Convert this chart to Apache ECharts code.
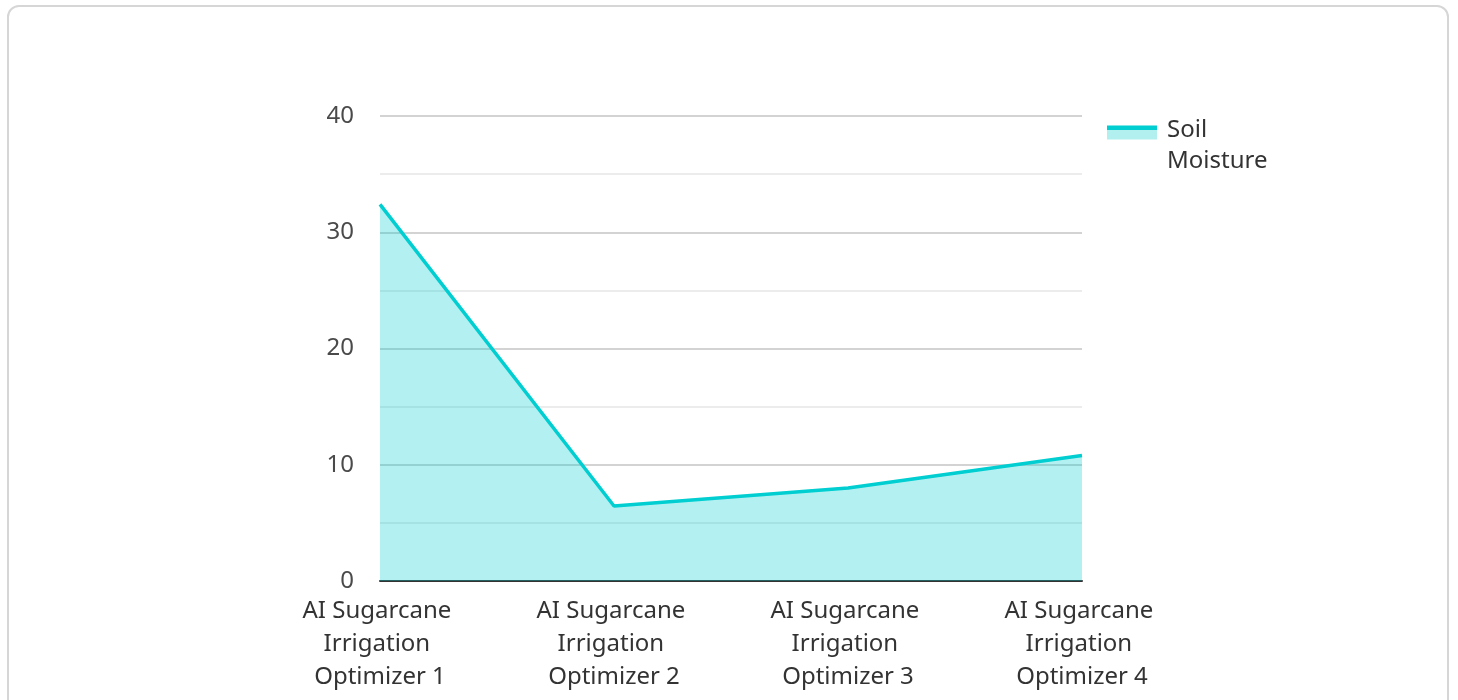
<!DOCTYPE html>
<html>
<head>
<meta charset="utf-8">
<script src="https://cdn.jsdelivr.net/npm/echarts@6/dist/echarts.min.js"></script>
<style>
html,body{margin:0;padding:0;background:#fff;}
#box{position:absolute;left:7px;top:5px;width:1442px;height:720px;border:2px solid #d6d6d6;border-radius:12px;box-sizing:border-box;}
#chart{position:absolute;left:0;top:0;width:1458px;height:700px;}
</style>
</head>
<body>
<div id="box"></div>
<div id="chart"></div>
<script>
const categories = ["AI Sugarcane Irrigation Optimizer 1","AI Sugarcane Irrigation Optimizer 2","AI Sugarcane Irrigation Optimizer 3","AI Sugarcane Irrigation Optimizer 4"];
const seriesName = "Soil Moisture";
const soilMoisture = [32.4, 6.45, 8.0, 10.8];
const yTicks = [0, 10, 20, 30, 40];

const chart = echarts.init(document.getElementById('chart'), null, {renderer:'canvas'});
chart.setOption({
  animation:false,
  textStyle:{fontFamily:'Noto Sans'},
  grid:{left:380, right:376, top:116, bottom:119, containLabel:false},
  legend:{
    left:1102, top:110, orient:'vertical',
    icon:'path://M0,0L50,0L50,14L0,14Z M0,41L0.01,41L0,41.01Z',
    itemWidth:50, itemHeight:41, itemGap:10,
    itemStyle:{color:new echarts.graphic.LinearGradient(0,0,0,1,[
      {offset:0,color:'#00CED1'},{offset:0.1,color:'#00CED1'},
      {offset:0.1,color:'#b2efef'},{offset:1,color:'#b2efef'}])},
    textStyle:{fontSize:24, color:'#333', fontFamily:'Noto Sans', lineHeight:31, width:120, overflow:'break', padding:[0,0,0,5]},
    data:[seriesName]
  },
  xAxis:{
    type:'category', data:categories, boundaryGap:false,
    axisLine:{lineStyle:{color:'#333', width:2}},
    axisTick:{show:false},
    axisLabel:{fontSize:24, color:'#333', fontFamily:'Noto Sans', lineHeight:33, width:190, overflow:'break', interval:0, margin:14}
  },
  yAxis:{
    type:'value', min:yTicks[0], max:yTicks[yTicks.length-1], interval:10,
    axisLine:{show:false}, axisTick:{show:false},
    axisLabel:{fontSize:24, color:'#4a4a4a', fontFamily:'Noto Sans', margin:26},
    splitLine:{lineStyle:{color:'#c4c4c4', width:1.5}},
    minorTick:{show:false, splitNumber:2},
    minorSplitLine:{show:true, lineStyle:{color:'#e6e6e6', width:1.5}}
  },
  series:[{
    name:seriesName, type:'line', data:soilMoisture,
    showSymbol:false, symbol:'none',
    lineStyle:{color:'#00CED1', width:3.5},
    itemStyle:{color:'#00CED1'},
    areaStyle:{color:'#00CED1', opacity:0.3}
  }]
});
</script>
</body>
</html>
